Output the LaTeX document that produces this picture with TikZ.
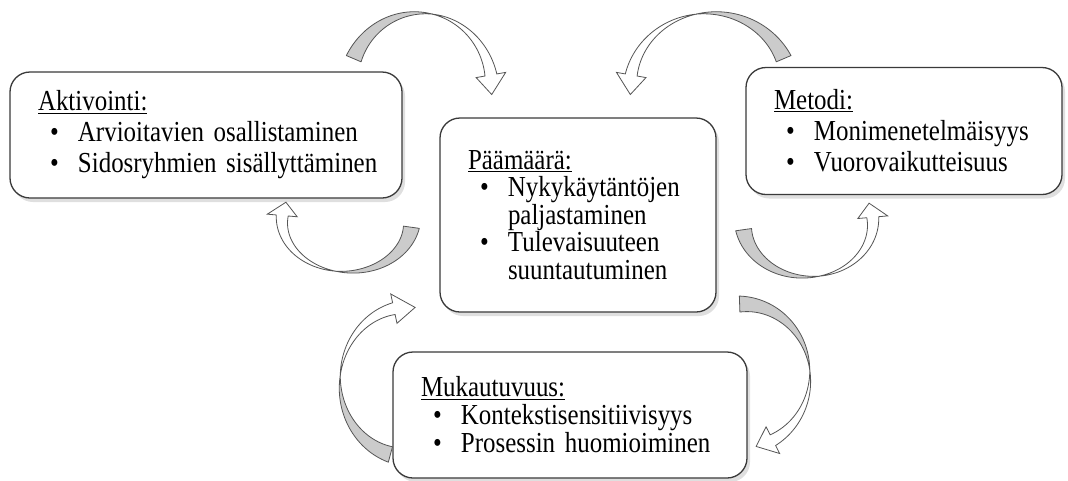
\documentclass[tikz,border=0pt]{standalone}
\usepackage{fontspec}
\setmainfont{Liberation Serif}[FakeStretch=0.86]
\usetikzlibrary{shadows}
\definecolor{boxline}{HTML}{3A3A3A}
\definecolor{arrowline}{HTML}{555555}
\definecolor{arrowgray}{HTML}{CBCBCB}

% one bullet line, and a continuation line under it
\newcommand{\itemline}[1]{\hspace*{12pt}\makebox[28pt][l]{\textbullet}\mbox{#1}}
\newcommand{\itemcont}[1]{\hspace*{40pt}\mbox{#1}}

% curved block arrow with a twist: centre x, centre y, radius x, radius y,
% tail angle, twist angle, head base angle, tip angle
\newcommand{\twistarrow}[8]{%
  \filldraw[arrowback]
    plot[domain=#5:#6] ({#1+(#3+8*(\x-#6)/(#5-#6))*cos(\x)},{#2+(#4+8*(\x-#6)/(#5-#6))*sin(\x)})
    -- plot[domain=#6:#5] ({#1+(#3-8*(\x-#6)/(#5-#6))*cos(\x)},{#2+(#4-8*(\x-#6)/(#5-#6))*sin(\x)})
    -- cycle;
  \filldraw[arrowfront]
    plot[domain=#6:#7] ({#1+(#3+6*(\x-#6)/(#7-#6))*cos(\x)},{#2+(#4+6*(\x-#6)/(#7-#6))*sin(\x)})
    -- ({#1+(#3+15)*cos(#7)},{#2+(#4+15)*sin(#7)})
    -- ({#1+#3*cos(#8)},{#2+#4*sin(#8)})
    -- ({#1+(#3-15)*cos(#7)},{#2+(#4-15)*sin(#7)})
    -- plot[domain=#7:#6] ({#1+(#3-6*(\x-#6)/(#7-#6))*cos(\x)},{#2+(#4-6*(\x-#6)/(#7-#6))*sin(\x)})
    -- cycle;
}

\begin{document}
\begin{tikzpicture}[x=1pt, y=-1pt,
    box/.style={draw=boxline, line width=1.3pt, rounded corners=20pt,
        fill=white, align=left, inner xsep=28pt, inner ysep=4pt,
        font=\fontsize{29}{31}\selectfont,
        drop shadow={opacity=0.25, shadow xshift=3pt, shadow yshift=-4pt}},
    arrowback/.style={fill=arrowgray, draw=arrowline, line width=0.8pt,
        line join=round, samples=40, smooth},
    arrowfront/.style={fill=white, draw=arrowline, line width=0.8pt,
        line join=miter, samples=40, smooth}]
    \useasboundingbox (0,0) rectangle (1068,480);

    \node[box, text width=336pt, minimum height=126pt] (aktiv) at (206,135)
        {\underline{Aktivointi:}\\
         \itemline{Arvioitavien osallistaminen}\\
         \itemline{Sidosryhmien sisällyttäminen}};
    \node[box, text width=220pt, minimum height=194pt,
          font=\fontsize{29}{27.5}\selectfont] (paamaara) at (578,215)
        {\underline{Päämäärä:}\\
         \itemline{Nykykäytäntöjen}\\
         \itemcont{paljastaminen}\\
         \itemline{Tulevaisuuteen}\\
         \itemcont{suuntautuminen}};
    \node[box, text width=260pt, minimum height=127pt] (metodi) at (904,131)
        {\underline{Metodi:}\\
         \itemline{Monimenetelmäisyys}\\
         \itemline{Vuorovaikutteisuus}};
    \node[box, text width=298pt, minimum height=126pt,
          font=\fontsize{29}{28}\selectfont] (mukaut) at (570,415)
        {\underline{Mukautuvuus:}\\
         \itemline{Kontekstisensitiivisyys}\\
         \itemline{Prosessin huomioiminen}};

    % arrows round the centre box
    \twistarrow{420}{88}{72}{75}{203}{280}{350}{365}
    \twistarrow{710}{88}{80}{75}{337}{260}{190}{175}
    \twistarrow{347}{220}{65}{52}{8}{100}{185}{200}
    \twistarrow{808}{222}{65}{55}{172}{80}{-5}{-20}
    \twistarrow{408}{382}{68}{75}{105}{185}{258}{276}
    \twistarrow{742}{376}{68}{72}{268}{355}{423}{438}

\end{tikzpicture}
\end{document}
